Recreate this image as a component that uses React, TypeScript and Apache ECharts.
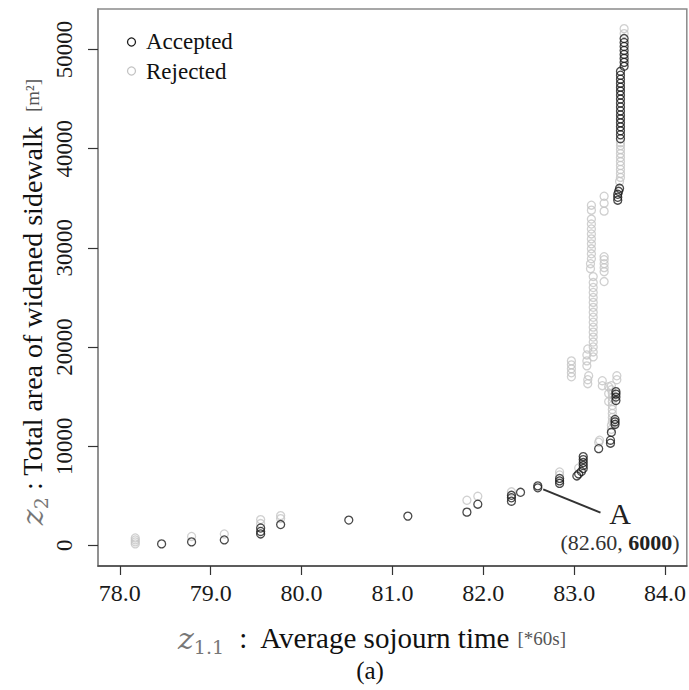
import React, { useEffect, useRef } from "react";
import * as echarts from "echarts";

const FONT = "Liberation Serif";

const xTicks = [78, 79, 80, 81, 82, 83, 84];
const yTicks = [0, 10000, 20000, 30000, 40000, 50000];

const legendNames = ["Accepted", "Rejected"];

const accepted: [number, number][] = [
  [78.46, 150], [78.79, 350], [79.15, 550],
  [79.55, 1150], [79.55, 1400], [79.55, 1750], [79.77, 2100],
  [80.52, 2550], [81.17, 2950], [81.82, 3350], [81.94, 4150],
  [82.31, 4450], [82.31, 4800], [82.31, 5050], [82.41, 5350],
  [82.6, 6000], [82.6, 5800],
  [82.84, 6250], [82.84, 6500], [82.84, 6750],
  [83.03, 7000], [83.05, 7200], [83.08, 7450], [83.1, 7750], [83.1, 8050], [83.1, 8350], [83.1, 8650], [83.1, 8950],
  [83.27, 9750], [83.4, 10300], [83.4, 10600], [83.41, 11400],
  [83.45, 12200], [83.45, 12450], [83.45, 12700],
  [83.46, 14600], [83.46, 14950], [83.46, 15250], [83.46, 15500],
  [83.48, 34800], [83.48, 35100], [83.48, 35400], [83.49, 35700], [83.5, 36000],
  [83.51, 41000], [83.51, 41400], [83.51, 41800], [83.51, 42200], [83.51, 42600], [83.51, 43000],
  [83.51, 43400], [83.51, 43800], [83.51, 44200], [83.51, 44600], [83.51, 45000], [83.51, 45400],
  [83.51, 45800], [83.51, 46200], [83.51, 46600], [83.51, 47000], [83.51, 47400], [83.51, 47800],
  [83.55, 48300], [83.55, 48700], [83.55, 49100], [83.55, 49500], [83.55, 49900], [83.55, 50300],
  [83.55, 50700], [83.55, 51100],
];

const rejected: [number, number][] = [
  [78.17, 150], [78.17, 350], [78.17, 550], [78.17, 750],
  [78.79, 900], [79.15, 1150],
  [79.55, 2200], [79.55, 2600], [79.77, 2700], [79.77, 3000],
  [81.82, 4550], [81.94, 4950],
  [82.31, 5400],
  [82.84, 7100], [82.84, 7400],
  [83.05, 7800],
  [83.27, 10400], [83.28, 10600],
  [83.41, 11700], [83.41, 12100], [83.42, 12500], [83.42, 12900], [83.42, 13300], [83.42, 13700],
  [83.42, 14100], [83.42, 14500], [83.42, 14900], [83.42, 15300], [83.41, 15700], [83.41, 16100],
  [83.38, 14500], [83.38, 15300], [83.38, 16000],
  [83.47, 16700], [83.47, 17100],
  [83.31, 16100], [83.31, 16600],
  [83.15, 16300], [83.15, 16700], [83.16, 17100],
  [82.97, 17000], [82.97, 17400], [82.97, 17800], [82.97, 18200], [82.97, 18600],
  [83.14, 18100], [83.14, 18600], [83.14, 19200], [83.15, 19800],
  [83.21, 19000], [83.21, 19500], [83.21, 20000], [83.21, 20500], [83.21, 21000], [83.21, 21500],
  [83.21, 22000], [83.21, 22500], [83.21, 23000], [83.21, 23500], [83.21, 24000], [83.21, 24500],
  [83.21, 25000], [83.21, 25500], [83.21, 26000], [83.21, 26500], [83.21, 27100],
  [83.33, 26600], [83.33, 27600], [83.33, 28000], [83.33, 28400], [83.33, 28800], [83.33, 29100],
  [83.18, 27900], [83.18, 28400], [83.19, 28900], [83.19, 29400], [83.19, 29900], [83.19, 30400],
  [83.19, 30900], [83.19, 31400], [83.19, 31900], [83.19, 32400], [83.19, 32900], [83.19, 33800],
  [83.19, 34300],
  [83.33, 33700], [83.33, 34500], [83.33, 35200],
  [83.5, 36700],
  [83.51, 37100], [83.51, 37500], [83.51, 37900], [83.51, 38300], [83.51, 38700], [83.51, 39100],
  [83.51, 39500], [83.51, 39900], [83.51, 40300], [83.51, 40600],
  [83.55, 51600], [83.55, 52100],
];

const annotationLine: [number, number][] = [[82.66, 5650], [83.29, 3300]];
const annotationLetter = "A";
const annotationCoordText = "(82.60, ";
const annotationBoldText = "6000";

export default function App() {
  const ref = useRef<HTMLDivElement>(null);
  useEffect(() => {
    document.body.style.margin = "0";
    const chart = echarts.init(ref.current!, null, { renderer: "svg" });
    chart.setOption({
      animation: false,
      backgroundColor: "#ffffff",
      grid: {
        left: 98,
        top: 9,
        right: 1,
        bottom: 124,
        show: true,
        borderColor: "#8a8a8a",
        borderWidth: 1.5,
        backgroundColor: "transparent",
      },
      xAxis: {
        type: "value",
        min: 77.76,
        max: 84.24,
        axisLine: { show: true, onZero: false, lineStyle: { color: "#444", width: 1.5 } },
        axisTick: { show: true, length: 9, customValues: xTicks, lineStyle: { color: "#333", width: 1.2 } },
        axisLabel: {
          customValues: xTicks,
          formatter: (v: number) => v.toFixed(1),
          fontFamily: FONT,
          fontSize: 24,
          color: "#1a1a1a",
          margin: 15,
        },
        splitLine: { show: false },
      },
      yAxis: {
        type: "value",
        min: -2080,
        max: 54080,
        axisLine: { show: true, onZero: false, lineStyle: { color: "#8a8a8a", width: 1.5 } },
        axisTick: { show: true, length: 10, customValues: yTicks, lineStyle: { color: "#333", width: 1.2 } },
        axisLabel: {
          customValues: yTicks,
          formatter: (v: number) => String(v),
          rotate: 90,
          fontFamily: FONT,
          fontSize: 23,
          color: "#1a1a1a",
          margin: 22,
        },
        splitLine: { show: false },
      },
      series: [
        {
          name: legendNames[1],
          type: "scatter",
          symbol: "circle",
          symbolSize: 8,
          data: rejected,
          itemStyle: { color: "rgba(255,255,255,0)", borderColor: "#c4c4c4", borderWidth: 1.3 },
          z: 2,
        },
        {
          name: legendNames[0],
          type: "scatter",
          symbol: "circle",
          symbolSize: 8,
          data: accepted,
          itemStyle: { color: "rgba(255,255,255,0)", borderColor: "#1c1c1c", borderWidth: 1.3 },
          z: 3,
          markLine: {
            silent: true,
            symbol: ["none", "none"],
            label: { show: false },
            lineStyle: { color: "#333", width: 2, type: "solid" },
            data: [[{ coord: annotationLine[0] }, { coord: annotationLine[1] }]],
          },
        },
      ],
      graphic: [
        { type: "circle", shape: { cx: 131.5, cy: 42, r: 4 }, style: { fill: "none", stroke: "#1c1c1c", lineWidth: 1.3 } },
        { type: "circle", shape: { cx: 131.5, cy: 71, r: 4 }, style: { fill: "none", stroke: "#c4c4c4", lineWidth: 1.3 } },
        {
          type: "text", x: 146, y: 41,
          style: { text: legendNames[0], font: `23px "${FONT}"`, fill: "#111", verticalAlign: "middle" },
        },
        {
          type: "text", x: 146, y: 71,
          style: { text: legendNames[1], font: `23px "${FONT}"`, fill: "#111", verticalAlign: "middle" },
        },
        {
          type: "text", x: 620, y: 513,
          style: { text: annotationLetter, font: `30px "${FONT}"`, fill: "#222", align: "center", verticalAlign: "middle" },
        },
        {
          type: "text", x: 620, y: 542,
          style: {
            text: `{n|${annotationCoordText}}{b|${annotationBoldText}}{n|)}`,
            align: "center",
            verticalAlign: "middle",
            rich: {
              n: { fontFamily: FONT, fontSize: 22, fill: "#333" },
              b: { fontFamily: FONT, fontSize: 22, fontWeight: "bold", fill: "#222" },
            },
          },
        },
        {
          type: "text", x: 372, y: 638,
          style: {
            text: "{z|z}{s|1.1}{t|  :  Average sojourn time }{u|[*60s]}",
            align: "center",
            verticalAlign: "middle",
            rich: {
              z: { fontFamily: "DejaVu Serif", fontStyle: "italic", fontSize: 30, fill: "#777", lineHeight: 36, verticalAlign: "middle" },
              s: { fontFamily: "DejaVu Serif", fontSize: 19, fill: "#777", lineHeight: 16, verticalAlign: "bottom" },
              t: { fontFamily: FONT, fontSize: 29, fill: "#111", lineHeight: 36, verticalAlign: "middle" },
              u: { fontFamily: FONT, fontSize: 19, fill: "#555", lineHeight: 36, verticalAlign: "middle" },
            },
          },
        },
        {
          type: "text", x: 370, y: 670,
          style: { text: "(a)", font: `25px "${FONT}"`, fill: "#111", align: "center", verticalAlign: "middle" },
        },
        {
          type: "text", x: 32, y: 302, rotation: Math.PI / 2,
          style: {
            text: "{z|z}{s|2}{t| : Total area of widened sidewalk  }{u|[m²]}",
            align: "center",
            verticalAlign: "middle",
            rich: {
              z: { fontFamily: "DejaVu Serif", fontStyle: "italic", fontSize: 30, fill: "#777", lineHeight: 36, verticalAlign: "middle" },
              s: { fontFamily: "DejaVu Serif", fontSize: 19, fill: "#777", lineHeight: 16, verticalAlign: "bottom" },
              t: { fontFamily: FONT, fontSize: 28, fill: "#111", lineHeight: 36, verticalAlign: "middle" },
              u: { fontFamily: FONT, fontSize: 19, fill: "#555", lineHeight: 36, verticalAlign: "middle" },
            },
          },
        },
      ],
    });
    return () => chart.dispose();
  }, []);
  return <div ref={ref} style={{ width: 689, height: 690 }} />;
}
